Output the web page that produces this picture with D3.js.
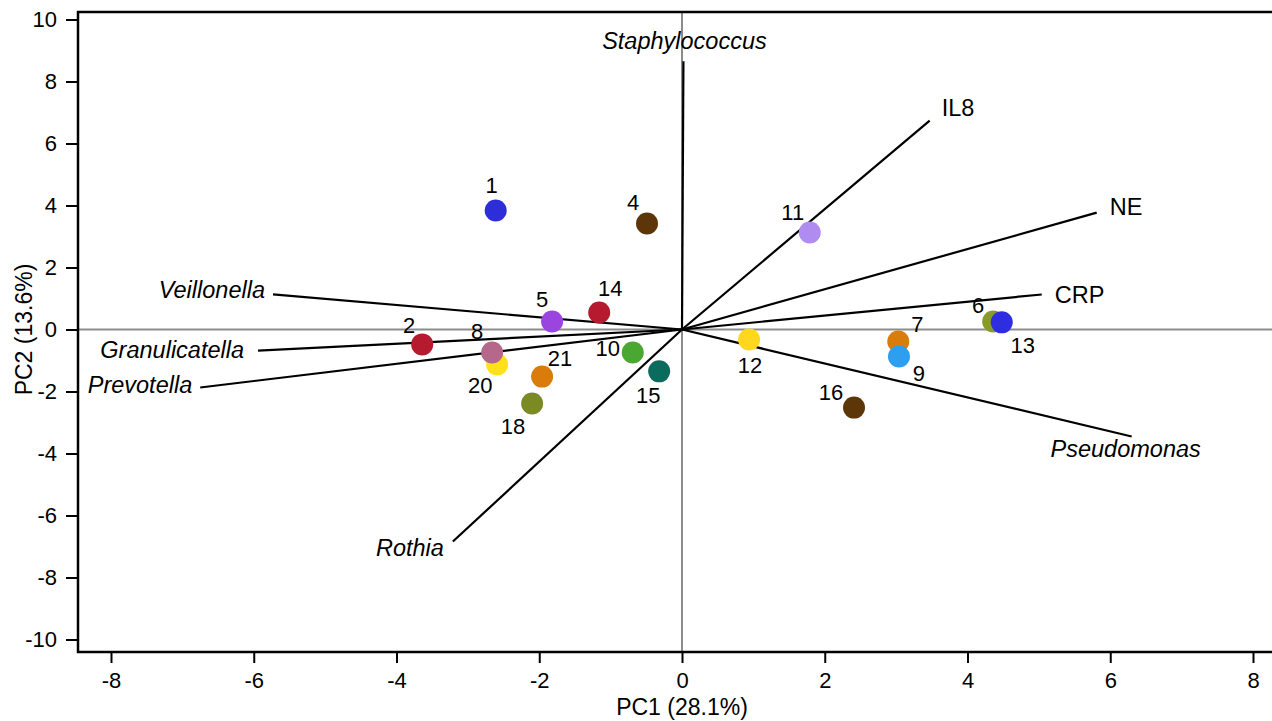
<!DOCTYPE html>
<html>
<head>
<meta charset="utf-8">
<script src="https://cdn.jsdelivr.net/npm/d3@7"></script>
<style>
  html, body { margin: 0; padding: 0; background: #fff; }
  svg { display: block; font-family: "Liberation Sans", Arial, Helvetica, sans-serif; }
</style>
</head>
<body>
<svg id="chart" width="1272" height="721"></svg>
<script>
// ---------- data ----------
const sampleLabels = ["1", "2", "4", "5", "6", "7", "9", "10", "11", "12", "13", "14", "15", "16", "18", "20", "21", "8"];
const pc1Values    = [-2.61, -3.64, -0.49, -1.82, 4.36, 3.03, 3.04, -0.69, 1.79, 0.94, 4.48, -1.16, -0.32, 2.41, -2.10, -2.59, -1.96, -2.66];
const pc2Values    = [3.84, -0.48, 3.42, 0.26, 0.26, -0.39, -0.87, -0.74, 3.13, -0.32, 0.23, 0.55, -1.35, -2.52, -2.39, -1.13, -1.52, -0.74];
const sampleColors = ["#2e2ed8", "#b51a2e", "#5c3608", "#9b45e0", "#8a9a2a", "#d97c0b", "#2e9ff0", "#4aa832", "#b08cf0", "#ffd81e", "#2e2ee0", "#b51a2e", "#0d6b5e", "#5c3608", "#7b8a25", "#ffe11a", "#d97c0b", "#b5688a"];

const loadingNames  = ["Staphylococcus", "IL8", "NE", "CRP", "Pseudomonas", "Rothia", "Prevotella", "Granulicatella", "Veillonella"];
const loadingPC1    = [0.02, 3.47, 5.81, 5.04, 6.30, -3.21, -6.75, -5.94, -5.73];
const loadingPC2    = [8.65, 6.74, 3.77, 1.13, -3.45, -6.84, -1.87, -0.68, 1.13];
const loadingItalic = [true, false, false, false, true, true, true, true, true];

const xTicks = [-8, -6, -4, -2, 0, 2, 4, 6, 8];
const yTicks = [-10, -8, -6, -4, -2, 0, 2, 4, 6, 8, 10];
const xTitle = "PC1 (28.1%)";
const yTitle = "PC2 (13.6%)";

// ---------- layout / style ----------
const sampleLabelOffset = {
  "1": [-4, -17], "2": [-13, -11], "4": [-14, -13], "5": [-10, -14], "6": [-15, -8],
  "7": [19, -10], "9": [20, 25], "10": [-25, 4], "11": [-17, -12], "12": [1, 34],
  "13": [21, 31], "14": [11, -16], "15": [-11, 32], "16": [-23, -8], "18": [-19, 30],
  "20": [-17, 28], "21": [18, -11], "8": [-15, -13]
};
const loadingLabelPos = {
  "Staphylococcus": ["middle", 1, -12], "IL8": ["start", 12, -5], "NE": ["start", 13, 2],
  "CRP": ["start", 13, 9], "Pseudomonas": ["middle", -6, 21], "Rothia": ["end", -9, 14],
  "Prevotella": ["end", -8, 6], "Granulicatella": ["end", -14, 7], "Veillonella": ["end", -8, 4]
};

const frame = { left: 78, top: 12, bottom: 652, right: 1300 };
const svg = d3.select("#chart");

const x = d3.scaleLinear().domain([-8, 8]).range([111, 1253]);
const y = d3.scaleLinear().domain([10, -10]).range([19.5, 639.5]);

// zero reference lines
svg.append("line")
  .attr("x1", x(0)).attr("x2", x(0)).attr("y1", frame.top).attr("y2", frame.bottom)
  .attr("stroke", "#8c8c8c").attr("stroke-width", 2);
svg.append("line")
  .attr("x1", frame.left).attr("x2", frame.right).attr("y1", y(0)).attr("y2", y(0))
  .attr("stroke", "#8c8c8c").attr("stroke-width", 2);

// loading vectors
const loadings = loadingNames.map((n, i) => ({ name: n, px: loadingPC1[i], py: loadingPC2[i], italic: loadingItalic[i] }));
svg.append("g").selectAll("line").data(loadings).join("line")
  .attr("x1", x(0)).attr("y1", y(0))
  .attr("x2", d => x(d.px)).attr("y2", d => y(d.py))
  .attr("stroke", "#000").attr("stroke-width", 2.2);

svg.append("g").selectAll("text").data(loadings).join("text")
  .attr("x", d => x(d.px) + loadingLabelPos[d.name][1])
  .attr("y", d => y(d.py) + loadingLabelPos[d.name][2])
  .attr("text-anchor", d => loadingLabelPos[d.name][0])
  .attr("font-style", d => d.italic ? "italic" : "normal")
  .attr("font-size", 23.5)
  .attr("fill", "#000")
  .text(d => d.name);

// samples
const samples = sampleLabels.map((l, i) => ({ label: l, px: pc1Values[i], py: pc2Values[i], color: sampleColors[i] }));
svg.append("g").selectAll("circle").data(samples).join("circle")
  .attr("cx", d => x(d.px)).attr("cy", d => y(d.py))
  .attr("r", 11)
  .attr("fill", d => d.color);

svg.append("g").selectAll("text").data(samples).join("text")
  .attr("x", d => x(d.px) + sampleLabelOffset[d.label][0])
  .attr("y", d => y(d.py) + sampleLabelOffset[d.label][1])
  .attr("text-anchor", "middle")
  .attr("font-size", 22)
  .attr("fill", "#000")
  .text(d => d.label);

// frame
svg.append("rect")
  .attr("x", frame.left).attr("y", frame.top)
  .attr("width", frame.right - frame.left).attr("height", frame.bottom - frame.top)
  .attr("fill", "none").attr("stroke", "#000").attr("stroke-width", 2.5);

// axes
const fmt = d => String(d);
const yAxis = svg.append("g").attr("transform", `translate(${frame.left},0)`)
  .call(d3.axisLeft(y).tickValues(yTicks).tickSize(12).tickPadding(9).tickFormat(fmt));
const xAxis = svg.append("g").attr("transform", `translate(0,${frame.bottom})`)
  .call(d3.axisBottom(x).tickValues(xTicks).tickSize(11).tickPadding(9).tickFormat(fmt));
[xAxis, yAxis].forEach(a => {
  a.select(".domain").remove();
  a.selectAll(".tick line").attr("stroke", "#000").attr("stroke-width", 2);
  a.selectAll(".tick text").attr("font-size", 22).attr("fill", "#000")
    .attr("font-family", "'Liberation Sans', Arial, sans-serif");
});

// axis titles
svg.append("text")
  .attr("x", x(0)).attr("y", 715)
  .attr("text-anchor", "middle").attr("font-size", 23).attr("fill", "#000")
  .text(xTitle);
svg.append("text")
  .attr("transform", `translate(32,${y(0)}) rotate(-90)`)
  .attr("text-anchor", "middle").attr("font-size", 23).attr("fill", "#000")
  .text(yTitle);
</script>
</body>
</html>
